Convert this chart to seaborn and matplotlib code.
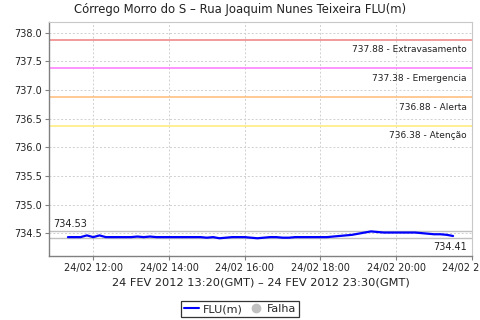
import matplotlib
matplotlib.use("Agg")
import matplotlib.pyplot as plt
import matplotlib.dates as mdates
from matplotlib.lines import Line2D
import seaborn as sns
import pandas as pd

title = "Córrego Morro do S – Rua Joaquim Nunes Teixeira FLU(m)"
xlabel = "24 FEV 2012 13:20(GMT) – 24 FEV 2012 23:30(GMT)"

times = ["11:20", "11:30", "11:40", "11:50", "12:00", "12:10", "12:20", "12:30", "12:40", "12:50",
         "13:00", "13:10", "13:20", "13:30", "13:40", "13:50", "14:00", "14:10", "14:20", "14:30",
         "14:40", "14:50", "15:00", "15:10", "15:20", "15:30", "15:40", "15:50", "16:00", "16:10",
         "16:20", "16:30", "16:40", "16:50", "17:00", "17:10", "17:20", "17:30", "17:40", "17:50",
         "18:00", "18:10", "18:20", "18:30", "18:40", "18:50", "19:00", "19:10", "19:20", "19:30",
         "19:40", "19:50", "20:00", "20:10", "20:20", "20:30", "20:40", "20:50", "21:00", "21:10",
         "21:20", "21:30"]
flu = [734.43, 734.43, 734.43, 734.46, 734.43, 734.46, 734.43, 734.43, 734.43, 734.43,
       734.43, 734.44, 734.43, 734.44, 734.43, 734.43, 734.43, 734.43, 734.43, 734.43,
       734.43, 734.43, 734.42, 734.43, 734.41, 734.42, 734.43, 734.43, 734.43, 734.42,
       734.41, 734.42, 734.43, 734.43, 734.42, 734.42, 734.43, 734.43, 734.43, 734.43,
       734.43, 734.43, 734.44, 734.45, 734.46, 734.47, 734.49, 734.51, 734.53, 734.52,
       734.51, 734.51, 734.51, 734.51, 734.51, 734.51, 734.50, 734.49, 734.48, 734.48,
       734.47, 734.45]

thresholds = [737.88, 737.38, 736.88, 736.38]
threshold_names = ["Extravasamento", "Emergencia", "Alerta", "Atenção"]
threshold_colors = ["#f08a8a", "#ff80ff", "#ffc080", "#ffee80"]
max_val, min_val = 734.53, 734.41
yticks = [734.5, 735.0, 735.5, 736.0, 736.5, 737.0, 737.5, 738.0]
xtick_times = ["12:00", "14:00", "16:00", "18:00", "20:00", "22:00"]

sns.set_style("white")
plt.rcParams['font.family'] = ['DejaVu Sans']

day = "2012-02-24 "
df = pd.DataFrame({"t": pd.to_datetime([day + t for t in times]), "FLU(m)": flu})

fig = plt.figure(figsize=(4.8, 3.2), dpi=100)
ax = fig.add_axes([49/480, 1 - 256/320, (472-49)/480, (256-22)/320])

ax.set_xlim(pd.Timestamp(day + "10:50"), pd.Timestamp(day + "22:00"))
ax.set_ylim(734.1, 738.19)

ax.grid(True, color="#d0d0d0", linestyle=(0, (2, 2)), linewidth=0.7)
ax.set_axisbelow(True)

for v, n, c in zip(thresholds, threshold_names, threshold_colors):
    ax.axhline(v, color=c, linewidth=1.2, zorder=2)
    ax.annotate(f"{v:.2f} - {n}", xy=(1, v), xycoords=("axes fraction", "data"),
                xytext=(-4, -4), textcoords="offset points", ha="right", va="top",
                fontsize=6.5, color="#222222")

ax.axhline(max_val, color="#c0c0c0", linewidth=1.0, zorder=2)
ax.axhline(min_val, color="#c0c0c0", linewidth=1.0, zorder=2)
ax.annotate(f"{max_val:.2f}", xy=(0, max_val), xycoords=("axes fraction", "data"),
            xytext=(3, 2), textcoords="offset points", ha="left", va="bottom",
            fontsize=7, color="#222222")
ax.annotate(f"{min_val:.2f}", xy=(1, min_val), xycoords=("axes fraction", "data"),
            xytext=(-4, -3), textcoords="offset points", ha="right", va="top",
            fontsize=7, color="#222222")

sns.lineplot(data=df, x="t", y="FLU(m)", ax=ax, color="#0000ff", linewidth=1.6, zorder=3)

ax.set_yticks(yticks)
ax.set_yticklabels([f"{v:.1f}" for v in yticks])
ax.set_xticks([pd.Timestamp(day + t) for t in xtick_times])
ax.xaxis.set_major_formatter(mdates.DateFormatter("%d/%m %H:%M"))
ax.tick_params(axis="both", labelsize=7, length=3, color="#808080", direction="out",
               left=True, bottom=True, pad=2, labelcolor="#222222")
for t in ax.get_xticklabels():
    t.set_clip_on(False)

for s in ["top", "right"]:
    ax.spines[s].set_color("#c8c8c8")
    ax.spines[s].set_linewidth(0.8)
for s in ["left", "bottom"]:
    ax.spines[s].set_color("#808080")
    ax.spines[s].set_linewidth(1.0)

ax.set_ylabel("")
ax.set_xlabel(xlabel, fontsize=8.2, color="#222222", labelpad=3)
fig.text(0.5, 1 - 10/320, title, ha="center", va="center", fontsize=8.4, color="#222222")

handles = [Line2D([0], [0], color="#0000ff", linewidth=1.5),
           Line2D([0], [0], marker="o", color="none", markerfacecolor="#c0c0c0",
                  markeredgecolor="#c0c0c0", markersize=6)]
fig.legend(handles, ["FLU(m)", "Falha"], loc="center", bbox_to_anchor=(0.5, 1 - 309/320),
           ncol=2, fontsize=8, frameon=True, fancybox=False, edgecolor="black",
           handlelength=1.4, handletextpad=0.3, columnspacing=0.5, borderpad=0.25)
leg = fig.legends[0]
leg.get_frame().set_linewidth(0.9)

fig.savefig("out.png", dpi=100)
